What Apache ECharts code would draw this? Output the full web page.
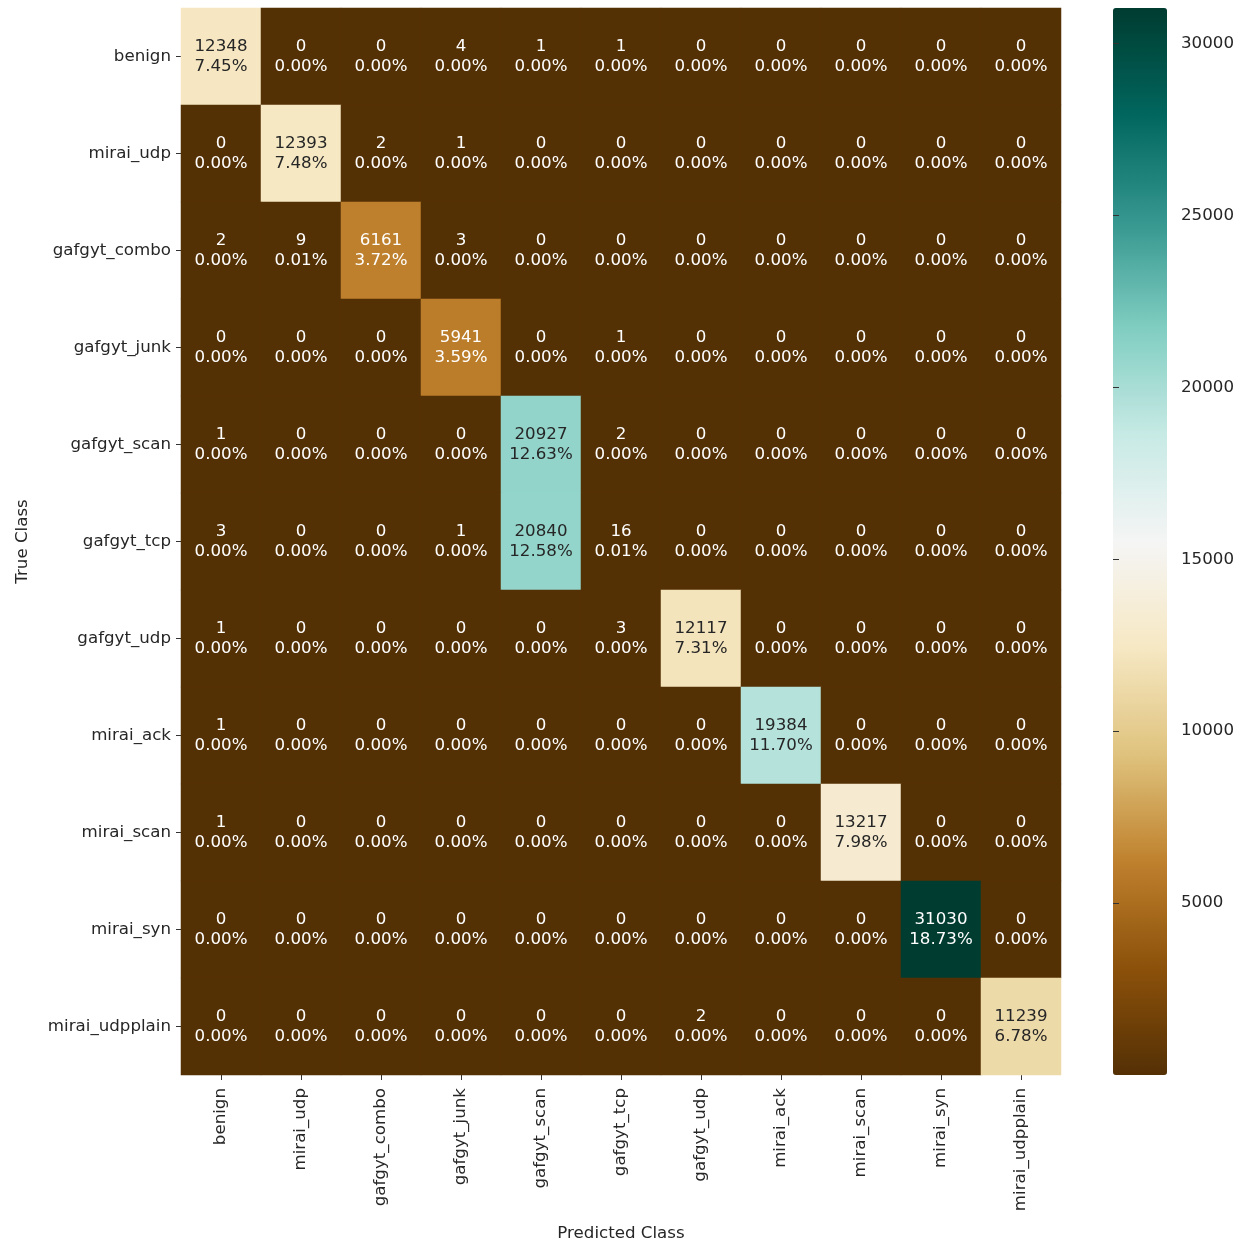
<!DOCTYPE html>
<html>
<head>
<meta charset="utf-8">
<script src="https://cdn.jsdelivr.net/npm/echarts@6/dist/echarts.min.js"></script>
<style>
  html, body { margin: 0; padding: 0; background: #fff; }
  #chart { width: 1248px; height: 1245px; }
</style>
</head>
<body>
<div id="chart"></div>
<script>
// class order is the same on both axes
const classes = [
  'benign', 'mirai_udp', 'gafgyt_combo', 'gafgyt_junk', 'gafgyt_scan', 'gafgyt_tcp',
  'gafgyt_udp', 'mirai_ack', 'mirai_scan', 'mirai_syn', 'mirai_udpplain'
]

// rows = true class, columns = predicted class
const counts = [
  [12348, 0, 0, 4, 1, 1, 0, 0, 0, 0, 0],
  [0, 12393, 2, 1, 0, 0, 0, 0, 0, 0, 0],
  [2, 9, 6161, 3, 0, 0, 0, 0, 0, 0, 0],
  [0, 0, 0, 5941, 0, 1, 0, 0, 0, 0, 0],
  [1, 0, 0, 0, 20927, 2, 0, 0, 0, 0, 0],
  [3, 0, 0, 1, 20840, 16, 0, 0, 0, 0, 0],
  [1, 0, 0, 0, 0, 3, 12117, 0, 0, 0, 0],
  [1, 0, 0, 0, 0, 0, 0, 19384, 0, 0, 0],
  [1, 0, 0, 0, 0, 0, 0, 0, 13217, 0, 0],
  [0, 0, 0, 0, 0, 0, 0, 0, 0, 31030, 0],
  [0, 0, 0, 0, 0, 0, 2, 0, 0, 0, 11239]
]

const colorbarTicks = [5000, 10000, 15000, 20000, 25000, 30000]

// matplotlib BrBG
const brbg = ['#543005', '#8c510a', '#bf812d', '#dfc27d', '#f6e8c3', '#f5f5f5',
  '#c7eae5', '#80cdc1', '#35978f', '#01665e', '#003c30']

const font = 'DejaVu Sans'
const fs = 16.67

const total = counts.flat().reduce((a, b) => a + b, 0)
const vmin = Math.min(...counts.flat())
const vmax = Math.max(...counts.flat())

// light cells (middle of the map) get dark text, like seaborn does
function textColor(v) {
  return v > 9000 && v < 25000 ? '#262626' : '#ffffff'
}

const cells = []
counts.forEach((row, y) => {
  row.forEach((v, x) => {
    cells.push({ value: [x, y, v], label: { color: textColor(v) } })
  })
})

const chart = echarts.init(document.getElementById('chart'))

chart.setOption({
  animation: false,
  textStyle: { fontFamily: font },
  grid: [
    // 80px wide cells so no seams show between them
    { left: 181, top: 8, width: 880, height: 1067, outerBoundsMode: 'none' },
    { left: 1113, top: 8, width: 54, height: 1067, outerBoundsMode: 'none' }
  ],
  xAxis: [
    {
      type: 'category',
      data: classes,
      position: 'bottom',
      name: 'Predicted Class',
      nameLocation: 'middle',
      nameGap: 150,
      nameTextStyle: { fontSize: fs, color: '#262626', fontFamily: font },
      axisLine: { show: false },
      axisTick: { show: true, alignWithLabel: true, length: 5, lineStyle: { color: '#333' } },
      axisLabel: { rotate: 90, fontSize: fs, color: '#262626', margin: 13, fontFamily: font },
      splitLine: { show: false }
    },
    { gridIndex: 1, type: 'value', show: false }
  ],
  yAxis: [
    {
      type: 'category',
      data: classes,
      inverse: true,
      name: 'True Class',
      nameLocation: 'middle',
      nameRotate: 90,
      nameGap: 150,
      nameTextStyle: { fontSize: fs, color: '#262626', fontFamily: font },
      axisLine: { show: false },
      axisTick: { show: true, alignWithLabel: true, length: 5, lineStyle: { color: '#333' } },
      axisLabel: { fontSize: fs, color: '#262626', margin: 10, fontFamily: font },
      splitLine: { show: false }
    },
    {
      gridIndex: 1,
      type: 'value',
      position: 'right',
      min: vmin,
      max: vmax,
      z: 10,
      axisLine: { show: false },
      splitLine: { show: false },
      axisTick: {
        show: true, inside: false, length: 6, customValues: colorbarTicks,
        lineStyle: { color: '#333', width: 1 }
      },
      axisLabel: {
        fontSize: fs, color: '#262626', margin: 14, customValues: colorbarTicks,
        fontFamily: font, formatter: v => String(v)
      }
    }
  ],
  visualMap: {
    type: 'continuous',
    seriesIndex: 0,
    min: vmin,
    max: vmax,
    calculable: false,
    orient: 'vertical',
    left: 1113,
    top: 8,
    padding: 0,
    itemWidth: 54,
    itemHeight: 1067,
    text: null,
    inRange: { color: brbg }
  },
  series: [
    {
      type: 'heatmap',
      data: cells,
      itemStyle: { borderWidth: 0 },
      label: {
        show: true,
        fontSize: fs,
        lineHeight: 20,
        fontFamily: font,
        formatter: p => p.value[2] + '\n' + (p.value[2] / total * 100).toFixed(2) + '%'
      },
      emphasis: { disabled: true }
    }
  ]
})
</script>
</body>
</html>
